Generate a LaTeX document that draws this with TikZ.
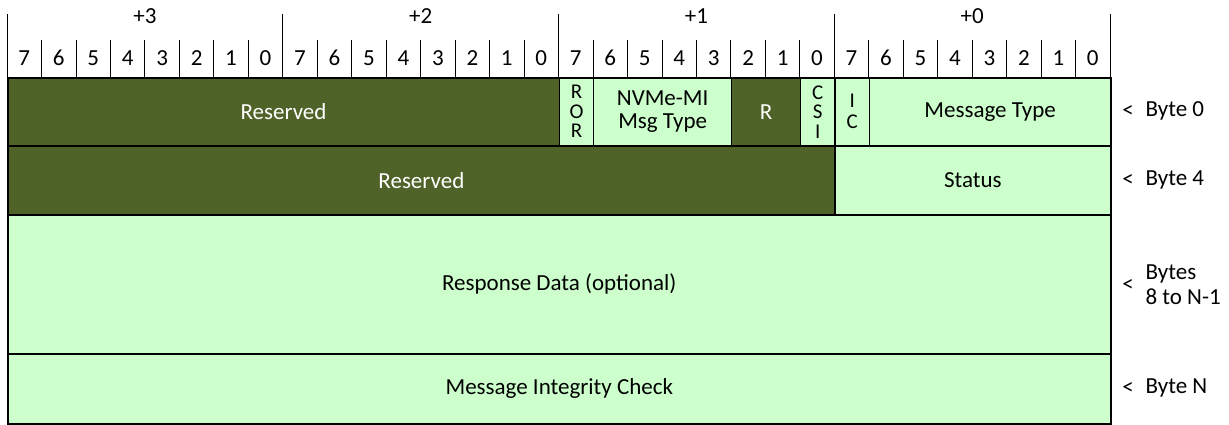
\documentclass[tikz,border=0pt]{standalone}
\usepackage{fontspec}
\setmainfont{Carlito}
\definecolor{darkol}{HTML}{4F6228}
\definecolor{lightg}{HTML}{CCFFCC}
\begin{document}
\begin{tikzpicture}[x=1pt,y=-1pt,
  font=\fontsize{23}{25}\selectfont,
  fld/.style={draw=black, line width=1.5pt, anchor=north west, inner sep=0pt, align=center},
  dk/.style={fld, fill=darkol, text=white},
  lt/.style={fld, fill=lightg, text=black},
  stack/.style={font=\fontsize{21}{19.5}\selectfont},
  hline/.style={draw=black, line width=0.8pt}]
\useasboundingbox (0,0) rectangle (1229,424);
\def\cw{34.47}
\newcommand\fieldbox[7]{%
  \node[#6, minimum width={((#3)-(#2))*\cw*1pt}, minimum height={((#5)-(#4))*1pt}] (#1) at ({7+(#2)*\cw},#4) {#7};}
% header
\foreach \b/\lab in {0/+3,1/+2,2/+1,3/+0}
  \node (byte\b) at ({7+(\b*8+4)*\cw},16) {\lab};
\foreach \c in {0,...,31}{
  \pgfmathtruncatemacro\d{7-mod(\c,8)}
  \node (bit\c) at ({7+(\c+0.5)*\cw},58) {\d};
}
\foreach \c in {0,...,32}{
  \pgfmathtruncatemacro\m{mod(\c,8)}
  \ifnum\m=0
    \draw[hline] ({7+\c*\cw},14) -- ({7+\c*\cw},77);
  \else
    \draw[hline] ({7+\c*\cw},40) -- ({7+\c*\cw},77);
  \fi
}
% row 1
\fieldbox{res0}{0}{16}{77}{145}{dk}{Reserved}
\fieldbox{ror}{16}{17}{77}{145}{lt,stack}{R\\O\\R}
\fieldbox{nvme}{17}{21}{77}{145}{lt,font=\fontsize{23}{23}\selectfont}{NVMe-MI\\Msg Type}
\fieldbox{r}{21}{23}{77}{145}{dk}{R}
\fieldbox{csi}{23}{24}{77}{145}{lt,stack}{C\\S\\I}
\fieldbox{ic}{24}{25}{77}{145}{lt,font=\fontsize{21}{21}\selectfont}{I\\C}
\fieldbox{mtype}{25}{32}{77}{145}{lt}{Message Type}
% row 2
\fieldbox{res4}{0}{24}{145}{214}{dk}{Reserved}
\fieldbox{status}{24}{32}{145}{214}{lt}{Status}
% row 3
\fieldbox{resp}{0}{32}{214}{353}{lt}{Response Data (optional)}
% row 4
\fieldbox{mic}{0}{32}{353}{423}{lt}{Message Integrity Check}
% right labels
\node (lt0) at (1128,111) {<};
\node[anchor=west] (b0) at (1142,111) {Byte 0};
\node (lt4) at (1128,180) {<};
\node[anchor=west] (b4) at (1142,180) {Byte 4};
\node (lt8) at (1128,285) {<};
\node[anchor=west, align=left] (b8) at (1142,285) {Bytes\\8 to N-1};
\node (ltn) at (1128,388) {<};
\node[anchor=west] (bn) at (1142,388) {Byte N};
\end{tikzpicture}
\end{document}
